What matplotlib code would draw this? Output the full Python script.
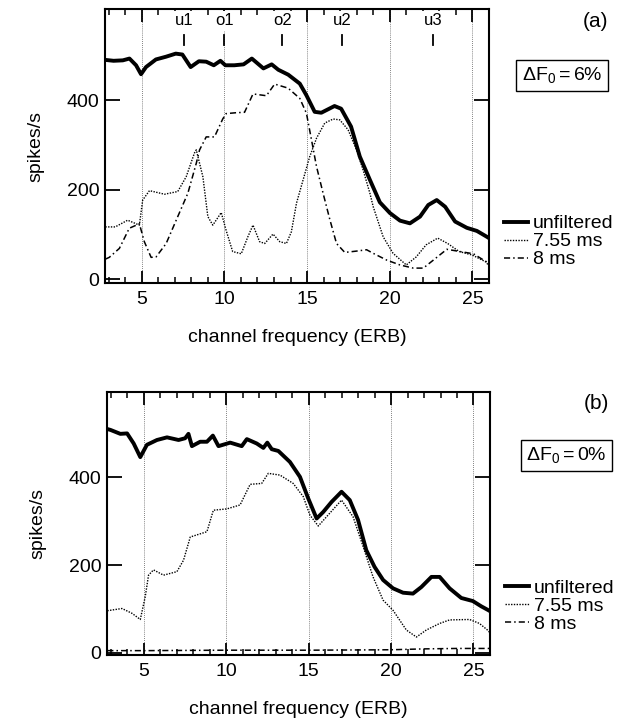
import numpy as np
import matplotlib
matplotlib.use('Agg')
import matplotlib.pyplot as plt
from matplotlib.ticker import MultipleLocator

plt.rcParams['font.family'] = ['Liberation Sans', 'DejaVu Sans']
plt.rcParams['mathtext.fontset'] = 'custom'
plt.rcParams['mathtext.rm'] = 'Liberation Sans'
plt.rcParams['mathtext.it'] = 'Liberation Sans'

# panel (a), dF0 = 6%
a_unf_x = [2.8, 3.3, 3.86, 4.26, 4.66, 4.96, 5.26, 5.86, 6.46, 7.06, 7.46, 7.96, 8.46, 8.9,
           9.36, 9.76, 10.06, 10.6, 11.16, 11.66, 12.36, 12.86, 13.26, 13.86, 14.56, 14.96,
           15.46, 15.86, 16.66, 17.06, 17.66, 18.19, 18.8, 19.4, 20.01, 20.62, 21.22, 21.83,
           22.33, 22.84, 23.35, 23.95, 24.66, 25.27, 25.87, 26.0]
a_unf_y = [490, 488, 489, 493, 478, 458, 474, 491, 497, 504, 502, 474, 487, 486,
           478, 488, 478, 478, 480, 493, 471, 480, 468, 457, 437, 411,
           374, 372, 387, 381, 341, 274, 222, 172, 148, 131, 125, 140,
           166, 177, 162, 129, 115, 108, 95, 92]

a_755_x = [2.8, 3.4, 4.15, 4.86, 5.06, 5.47, 6.38, 7.18, 7.69, 8.19, 8.3, 8.7, 9.0, 9.3,
           9.81, 10.1, 10.5, 11.02, 11.42, 11.73, 12.13, 12.44, 12.94, 13.35, 13.75, 14.05,
           14.36, 14.76, 15.16, 15.57, 16.07, 16.58, 16.98, 17.48, 17.99, 18.39, 18.8, 19.0,
           19.6, 20.2, 21.0, 21.6, 22.2, 22.9, 23.5, 24.2, 25.0, 25.8, 26.0]
a_755_y = [117, 117, 132, 121, 177, 198, 190, 196, 229, 282, 289, 229, 140, 121,
           149, 110, 62, 57, 95, 121, 84, 80, 101, 84, 80, 106,
           170, 222, 274, 315, 349, 358, 356, 334, 289, 244, 192, 162,
           95, 58, 32, 50, 77, 92, 80, 62, 54, 39, 30]

a_8_x = [2.8, 3.04, 3.65, 4.25, 4.86, 5.16, 5.57, 5.87, 6.48, 7.18, 7.79, 8.3, 8.5, 8.9,
         9.4, 9.9, 10.1, 10.7, 11.22, 11.73, 12.54, 13.04, 13.85, 14.56, 14.96, 15.27,
         15.57, 15.97, 16.38, 16.78, 17.28, 17.99, 18.6, 19.0, 19.81, 20.62, 21.42, 22.03,
         22.64, 23.45, 24.25, 25.06, 25.67, 26.0]
a_8_y = [45, 49, 69, 114, 124, 84, 49, 50, 80, 140, 192, 259, 289, 318,
         318, 358, 370, 372, 373, 414, 410, 436, 427, 404, 371, 311,
         252, 192, 133, 80, 60, 63, 66, 58, 43, 32, 25, 25,
         43, 67, 62, 57, 43, 36]

# panel (b), dF0 = 0%
b_unf_x = [2.8, 2.99, 3.59, 4.0, 4.4, 4.8, 5.2, 5.81, 6.42, 7.12, 7.52, 7.72, 7.93, 8.43,
           8.84, 9.2, 9.54, 10.25, 10.95, 11.26, 11.86, 12.26, 12.5, 12.77, 13.17, 13.87,
           14.48, 14.98, 15.49, 15.89, 16.4, 17.0, 17.5, 18.0, 18.5, 19.0, 19.52, 20.12,
           20.73, 21.33, 21.84, 22.45, 22.95, 23.55, 24.26, 24.96, 25.47, 25.91, 26.0]
b_unf_y = [510, 508, 499, 500, 477, 446, 474, 485, 491, 485, 489, 499, 471, 481,
           481, 495, 471, 479, 471, 487, 477, 467, 479, 464, 460, 435,
           401, 352, 306, 321, 344, 367, 348, 303, 234, 196, 166, 147,
           137, 135, 150, 173, 173, 147, 125, 118, 106, 97, 95]

b_755_x = [2.8, 2.99, 3.69, 4.3, 4.8, 5.1, 5.3, 5.6, 6.21, 7.02, 7.42, 7.83, 8.84, 9.23,
           10.05, 10.85, 11.46, 12.16, 12.56, 13.27, 14.07, 14.68, 15.08, 15.59, 16.09, 17.0,
           17.7, 18.31, 18.91, 19.52, 20.12, 20.93, 21.54, 22.14, 22.95, 23.55, 24.76, 25.36,
           25.91, 26.0]
b_755_y = [96, 97, 101, 90, 76, 128, 177, 189, 177, 185, 211, 264, 276, 325,
           328, 337, 384, 386, 409, 405, 386, 356, 314, 289, 310, 348,
           310, 242, 173, 120, 97, 52, 36, 52, 67, 75, 76, 67,
           50, 45]

b_8_x = [2.8, 5, 10, 15, 20, 22, 24, 26]
b_8_y = [5, 5, 6, 6, 7, 9, 10, 10]

# harmonic markers for panel (a)
mark_x = [7.55, 10.0, 13.5, 17.1, 22.6]
mark_lab = ['u1', 'o1', 'o2', 'u2', 'u3']

panels = [
    ('(a)', r'$\Delta\mathrm{F_0 = 6\%}$', a_unf_x, a_unf_y, a_755_x, a_755_y, a_8_x, a_8_y),
    ('(b)', r'$\Delta\mathrm{F_0 = 0\%}$', b_unf_x, b_unf_y, b_755_x, b_755_y, b_8_x, b_8_y),
]

fig = plt.figure(figsize=(6.23, 7.21), dpi=100)
rects = [[0.1685, 0.6079, 0.6164, 0.3792], [0.1717, 0.0915, 0.6148, 0.3652]]
ylims = [(-7.6, 603), (-5, 595)]
fs = 14

for i, (tag, box, ux, uy, dx, dy, ex, ey) in enumerate(panels):
    ax = fig.add_axes(rects[i])
    for xv in [5, 10, 15, 20, 25]:
        ax.axvline(xv, color='0.35', lw=0.6, ls=(0, (1, 1.5)), zorder=0)
    ax.plot(ux, uy, color='black', lw=2.8, solid_joinstyle='round', label='unfiltered')
    ax.plot(dx, dy, color='black', lw=1.0, ls=(0, (1, 1)), label='7.55 ms')
    ax.plot(ex, ey, color='black', lw=1.1, ls=(0, (4, 2, 1, 2)), label='8 ms')
    ax.set_xlim(2.78, 26.0)
    ax.set_ylim(*ylims[i])
    ax.xaxis.set_major_locator(MultipleLocator(5))
    ax.xaxis.set_minor_locator(MultipleLocator(1))
    ax.set_yticks([0, 200, 400])
    ax.tick_params(axis='x', which='major', direction='in', top=True, length=9, width=1.3,
                   labelsize=fs, pad=6)
    ax.tick_params(axis='x', which='minor', direction='in', top=True, length=4.5, width=1.1)
    ax.tick_params(axis='y', which='major', direction='in', right=True, length=11, width=1.3,
                   labelsize=fs, pad=4)
    for s in ax.spines.values():
        s.set_linewidth(1.5)
    ax.set_xlabel('channel frequency (ERB)', fontsize=fs, labelpad=15)
    ax.set_ylabel('spikes/s', fontsize=fs, labelpad=16)
    ax.text(1.31, 0.99, tag, transform=ax.transAxes, ha='right', va='top', fontsize=fs + 1)
    ax.text(1.19 if i == 0 else 1.2, 0.758, box, transform=ax.transAxes, ha='center',
            va='center', fontsize=fs,
            bbox=dict(boxstyle='square,pad=0.28', fc='white', ec='black', lw=1.0))
    ax.legend(loc='center left', bbox_to_anchor=(1.04, 0.15 if i == 0 else 0.185),
              frameon=False, fontsize=fs, handlelength=1.2, handletextpad=0.25,
              labelspacing=0.02, borderpad=0, borderaxespad=0)
    if i == 0:
        for mx, ml in zip(mark_x, mark_lab):
            ax.plot([mx, mx], [524, 546], color='black', lw=1.3, zorder=3)
            ax.text(mx, 561, ml, ha='center', va='bottom', fontsize=12, zorder=3,
                    bbox=dict(boxstyle='square,pad=0.15', fc='white', ec='none'))

fig.savefig('out.png', dpi=100)
